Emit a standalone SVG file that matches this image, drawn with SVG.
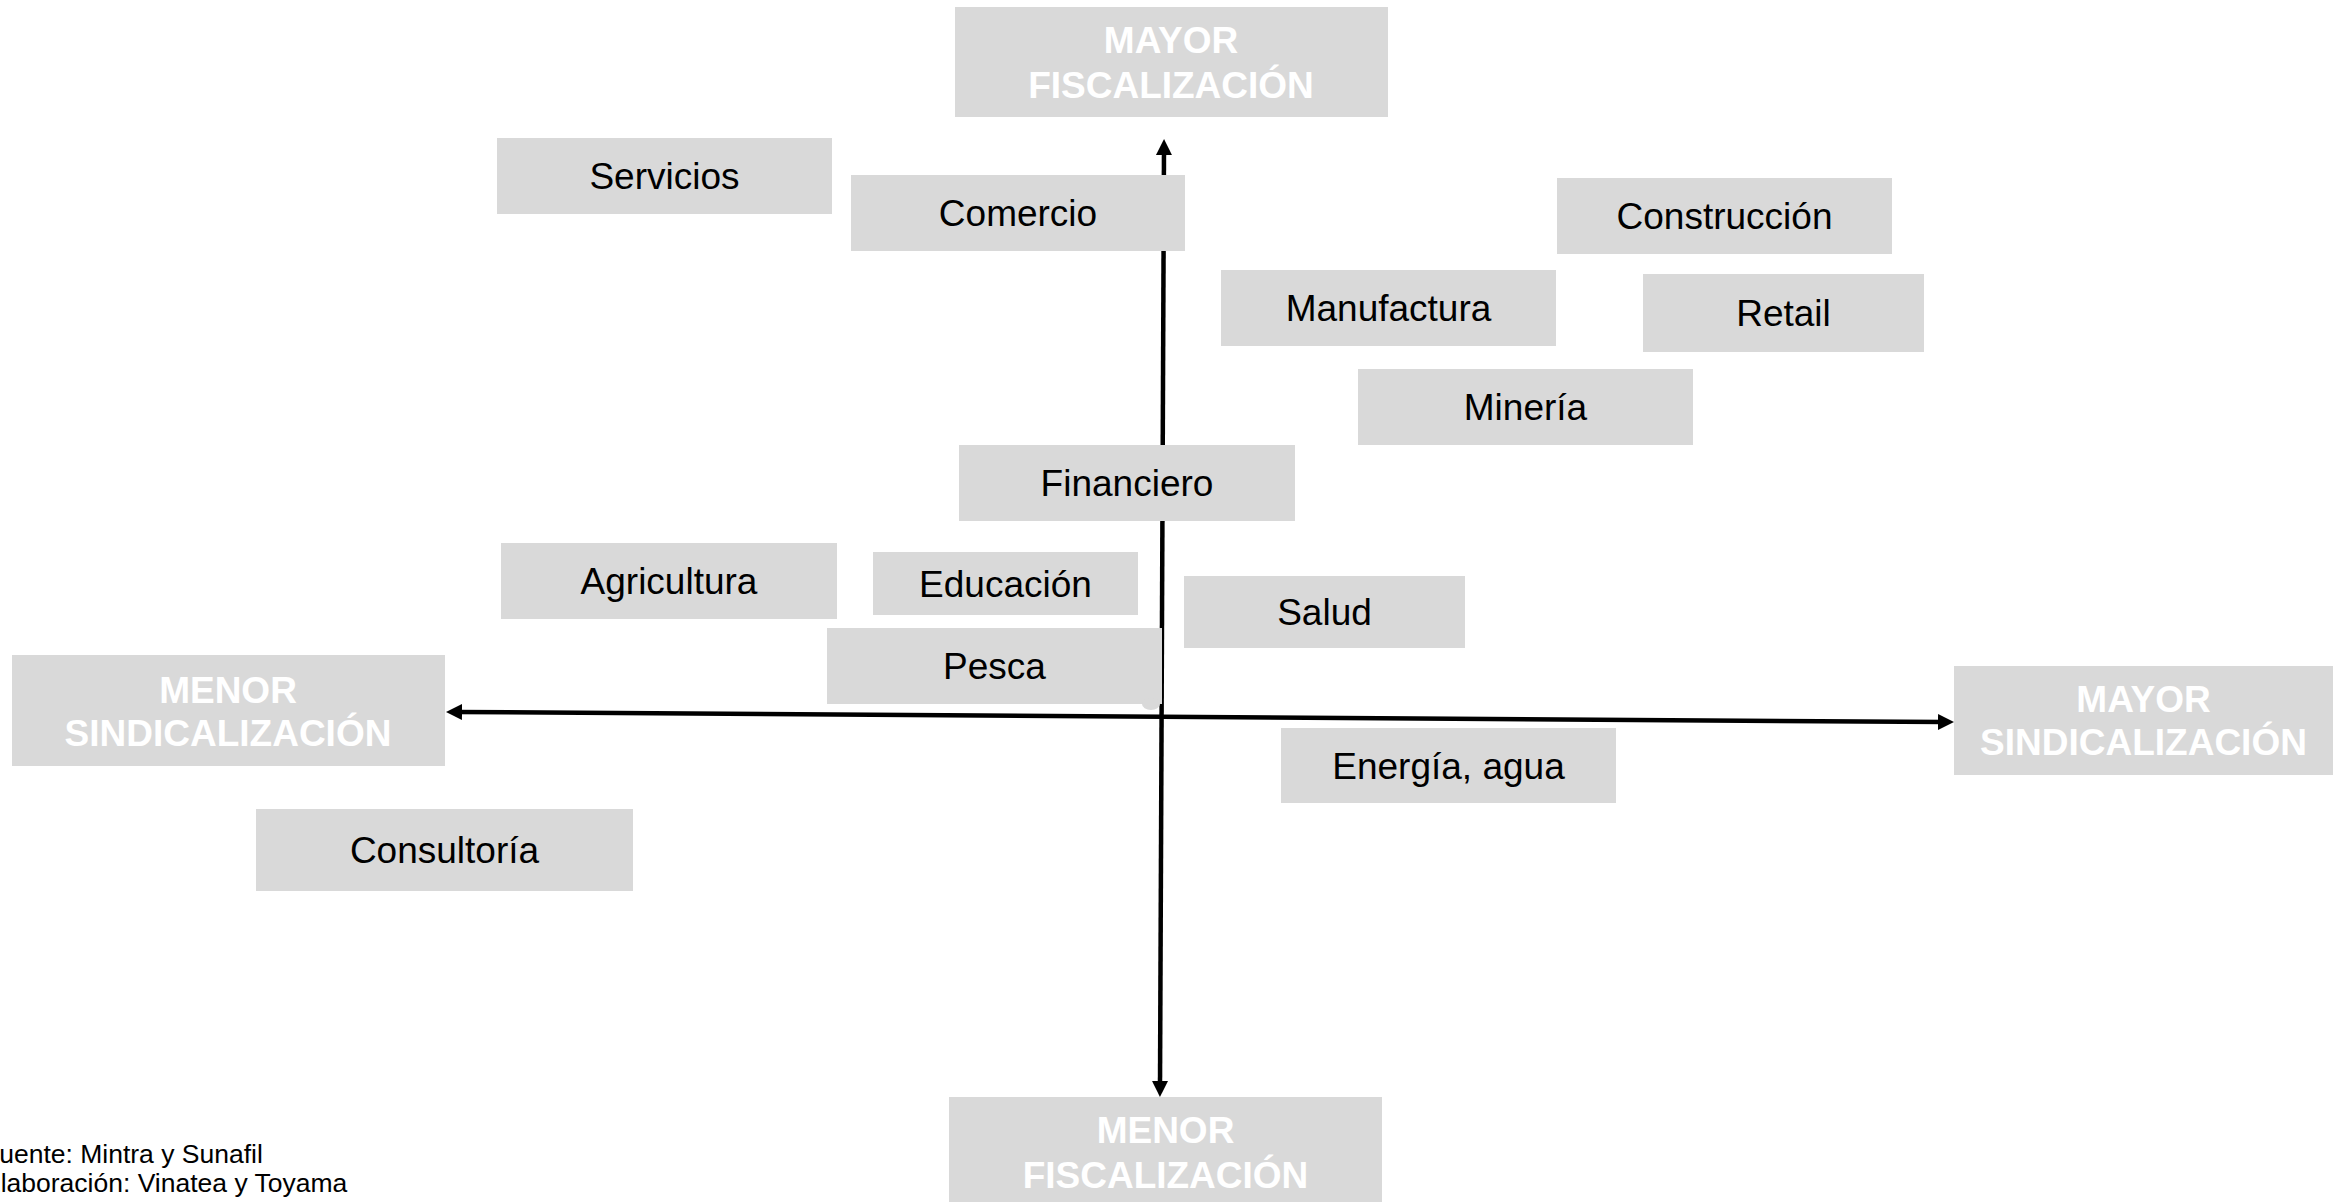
<svg xmlns="http://www.w3.org/2000/svg" width="2346" height="1202" viewBox="0 0 2346 1202">
  <style>
    .box { fill: #d9d9d9; }
    .lbl { font-family: "Liberation Sans", Arial, sans-serif; font-size: 37px; fill: #000; text-anchor: middle; }
    .pole { font-family: "Liberation Sans", Arial, sans-serif; font-size: 37px; font-weight: bold; fill: #ffffff; text-anchor: middle; }
    .axis { stroke: #000; stroke-width: 4.5; fill: none; marker-start: url(#head); marker-end: url(#head); }
    .note { font-family: "Liberation Sans", Arial, sans-serif; font-size: 26.5px; fill: #000; }
  </style>
  <defs>
    <!-- arrowhead: tip sits 10px beyond the line end -->
    <marker id="head" markerUnits="userSpaceOnUse" markerWidth="17" markerHeight="17" viewBox="0 0 17 17" refX="6" refY="8.5" orient="auto-start-reverse">
      <path d="M0,0.5 L16,8.5 L0,16.5 Z" fill="#000"/>
    </marker>
  </defs>

  <rect width="2346" height="1202" fill="#ffffff"/>

  <!-- axes -->
  <g id="connectors">
    <line class="axis" x1="1160" y1="1087" x2="1164" y2="149"/>
    <line class="axis" x1="1944" y1="722" x2="456" y2="712"/>
  </g>

  <!-- axis poles -->
  <g id="pole-mayor-fiscalizacion">
    <rect class="box" x="955" y="7" width="433" height="110"/>
    <text class="pole" x="1171" y="53">MAYOR</text>
    <text class="pole" x="1171" y="98">FISCALIZACIÓN</text>
  </g>
  <g id="pole-menor-fiscalizacion">
    <rect class="box" x="949" y="1097" width="433" height="105"/>
    <text class="pole" x="1165.5" y="1143">MENOR</text>
    <text class="pole" x="1165.5" y="1188">FISCALIZACIÓN</text>
  </g>
  <g id="pole-menor-sindicalizacion">
    <rect class="box" x="12" y="655" width="433" height="111"/>
    <text class="pole" x="228" y="703">MENOR</text>
    <text class="pole" x="228" y="746">SINDICALIZACIÓN</text>
  </g>
  <g id="pole-mayor-sindicalizacion">
    <rect class="box" x="1954" y="666" width="379" height="109"/>
    <text class="pole" x="2143.5" y="712">MAYOR</text>
    <text class="pole" x="2143.5" y="755">SINDICALIZACIÓN</text>
  </g>

  <!-- sectors -->
  <g id="servicios">
    <rect class="box" x="497" y="138" width="335" height="76"/>
    <text class="lbl" x="664.5" y="189">Servicios</text>
  </g>
  <g id="comercio">
    <rect class="box" x="851" y="175" width="334" height="76"/>
    <text class="lbl" x="1018" y="226">Comercio</text>
  </g>
  <g id="construccion">
    <rect class="box" x="1557" y="178" width="335" height="76"/>
    <text class="lbl" x="1724.5" y="229">Construcción</text>
  </g>
  <g id="manufactura">
    <rect class="box" x="1221" y="270" width="335" height="76"/>
    <text class="lbl" x="1388.5" y="321">Manufactura</text>
  </g>
  <g id="retail">
    <rect class="box" x="1643" y="274" width="281" height="78"/>
    <text class="lbl" x="1783.5" y="326">Retail</text>
  </g>
  <g id="mineria">
    <rect class="box" x="1358" y="369" width="335" height="76"/>
    <text class="lbl" x="1525.5" y="420">Minería</text>
  </g>
  <g id="financiero">
    <rect class="box" x="959" y="445" width="336" height="76"/>
    <text class="lbl" x="1127" y="496">Financiero</text>
  </g>
  <g id="agricultura">
    <rect class="box" x="501" y="543" width="336" height="76"/>
    <text class="lbl" x="669" y="594">Agricultura</text>
  </g>
  <g id="educacion">
    <rect class="box" x="873" y="552" width="265" height="63"/>
    <text class="lbl" x="1005.5" y="597">Educación</text>
  </g>
  <g id="salud">
    <rect class="box" x="1184" y="576" width="281" height="72"/>
    <text class="lbl" x="1324.5" y="625">Salud</text>
  </g>
  <g id="pesca">
    <rect class="box" x="827" y="628" width="335" height="76"/>
    <ellipse class="box" cx="1151" cy="704" rx="9" ry="6"/>
    <text class="lbl" x="994.5" y="679">Pesca</text>
  </g>
  <g id="energia-agua">
    <rect class="box" x="1281" y="728" width="335" height="75"/>
    <text class="lbl" x="1448.5" y="779">Energía, agua</text>
  </g>
  <g id="consultoria">
    <rect class="box" x="256" y="809" width="377" height="82"/>
    <text class="lbl" x="444.5" y="863">Consultoría</text>
  </g>

  <!-- source note, first letters run past the left edge -->
  <g id="source">
    <text class="note" x="-17" y="1163">Fuente: Mintra y Sunafil</text>
    <text class="note" x="-17" y="1192">Elaboración: Vinatea y Toyama</text>
  </g>
</svg>
